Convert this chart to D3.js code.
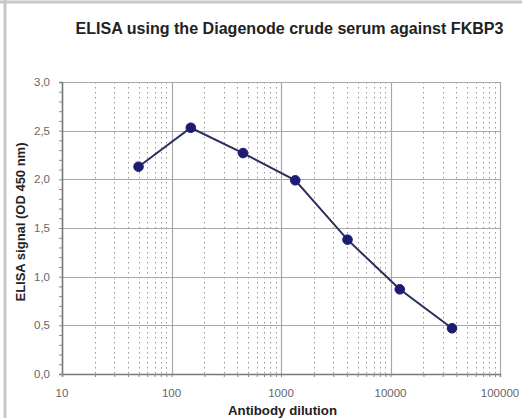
<!DOCTYPE html>
<html><head><meta charset="utf-8">
<script src="https://cdn.jsdelivr.net/npm/d3@7"></script>
<style>html,body{margin:0;padding:0;background:#fff;}svg{display:block;}</style>
</head><body>
<svg id="c" width="522" height="418"></svg>
<script>
const dilutions = [50, 150, 450, 1350, 4050, 12150, 36450];
const signals = [2.13, 2.53, 2.27, 1.99, 1.38, 0.87, 0.47];
const xTicks = [10, 100, 1000, 10000, 100000];
const yTicks = [0, 0.5, 1.0, 1.5, 2.0, 2.5, 3.0];
const title = "ELISA using the Diagenode crude serum against FKBP3";
const xTitle = "Antibody dilution";
const yTitle = "ELISA signal (OD 450 nm)";

const svg = d3.select("#c");
const FONT = "Liberation Sans, Arial, sans-serif";
const m = {l: 62, r: 500, t: 82, b: 374};
const x = d3.scaleLog().domain([10, 100000]).range([m.l, m.r]);
const y = d3.scaleLinear().domain([0, 3]).range([m.b, m.t]);

// page frame
svg.append("line").attr("x1",0).attr("x2",522).attr("y1",2).attr("y2",2).attr("stroke","#c8c8c8").attr("stroke-width",3);
svg.append("line").attr("x1",5).attr("x2",5).attr("y1",0).attr("y2",418).attr("stroke","#c8c8c8").attr("stroke-width",3);

const g = svg.append("g");
const minors = [];
for (let d = 10; d < 100000; d *= 10) for (let k = 2; k <= 9; k++) minors.push(d*k);
g.selectAll("line.minor").data(minors).join("line")
  .attr("x1", d=>Math.round(x(d))+0.5).attr("x2", d=>Math.round(x(d))+0.5)
  .attr("y1", m.t).attr("y2", m.b)
  .attr("stroke","#999").attr("stroke-width",1).attr("stroke-dasharray","1.5,3.5");
g.selectAll("line.vmaj").data(xTicks).join("line")
  .attr("x1", d=>Math.round(x(d))+0.5).attr("x2", d=>Math.round(x(d))+0.5)
  .attr("y1", m.t).attr("y2", m.b)
  .attr("stroke","#a8a8a8").attr("stroke-width",1.2);
g.selectAll("line.hmaj").data(yTicks).join("line")
  .attr("x1", m.l).attr("x2", m.r)
  .attr("y1", d=>Math.round(y(d))+0.5).attr("y2", d=>Math.round(y(d))+0.5)
  .attr("stroke","#a8a8a8").attr("stroke-width",1.2);

const yAxis = d3.axisLeft(y).tickValues(d3.range(0, 3.01, 0.1)).tickSize(3).tickFormat("");
const ya = svg.append("g").attr("transform",`translate(${m.l},0)`).call(yAxis);
ya.selectAll("line").attr("stroke","#888");
const xAxis = d3.axisBottom(x).tickValues(minors.concat(xTicks)).tickSize(3).tickFormat("");
const xa = svg.append("g").attr("transform",`translate(0,${m.b})`).call(xAxis);
xa.selectAll("line").attr("stroke","#888");
ya.select("path").attr("stroke","#777").attr("stroke-width",1.5);
xa.select("path").attr("stroke","#777").attr("stroke-width",1.5);

svg.selectAll("text.yl").data(yTicks).join("text")
  .attr("x", 50).attr("y", d=>y(d)+4).attr("text-anchor","end")
  .attr("font-family",FONT).attr("font-size",11.5)
  .attr("fill","#666").text(d=>d.toFixed(1).replace(".",","));
svg.selectAll("text.xl").data(xTicks).join("text")
  .attr("x", d=>x(d)).attr("y", 397).attr("text-anchor","middle")
  .attr("font-family",FONT).attr("font-size",11.5)
  .attr("fill","#666").text(d=>d);

const pts = dilutions.map((d,i)=>[d, signals[i]]);
svg.append("path").datum(pts)
  .attr("d", d3.line().x(d=>x(d[0])).y(d=>y(d[1])))
  .attr("fill","none").attr("stroke","#2d2d5e").attr("stroke-width",2);
svg.selectAll("circle").data(pts).join("circle")
  .attr("cx", d=>x(d[0])).attr("cy", d=>y(d[1])).attr("r",4.8)
  .attr("fill","#1c1c72").attr("stroke","#1c1c72");

svg.append("text").attr("x",289.5).attr("y",34).attr("text-anchor","middle")
  .attr("font-family",FONT).attr("font-size",16).attr("font-weight","bold")
  .attr("textLength",428).attr("lengthAdjust","spacingAndGlyphs")
  .attr("fill","#222").text(title);
svg.append("text").attr("x",282.5).attr("y",415).attr("text-anchor","middle")
  .attr("font-family",FONT).attr("font-size",12.5).attr("font-weight","bold")
  .attr("textLength",109).attr("lengthAdjust","spacingAndGlyphs")
  .attr("fill","#222").text(xTitle);
svg.append("text").attr("transform","translate(24.5,222) rotate(-90)").attr("text-anchor","middle")
  .attr("font-family",FONT).attr("font-size",12.5).attr("font-weight","bold")
  .attr("textLength",159).attr("lengthAdjust","spacingAndGlyphs")
  .attr("fill","#222").text(yTitle);
</script>
</body></html>
